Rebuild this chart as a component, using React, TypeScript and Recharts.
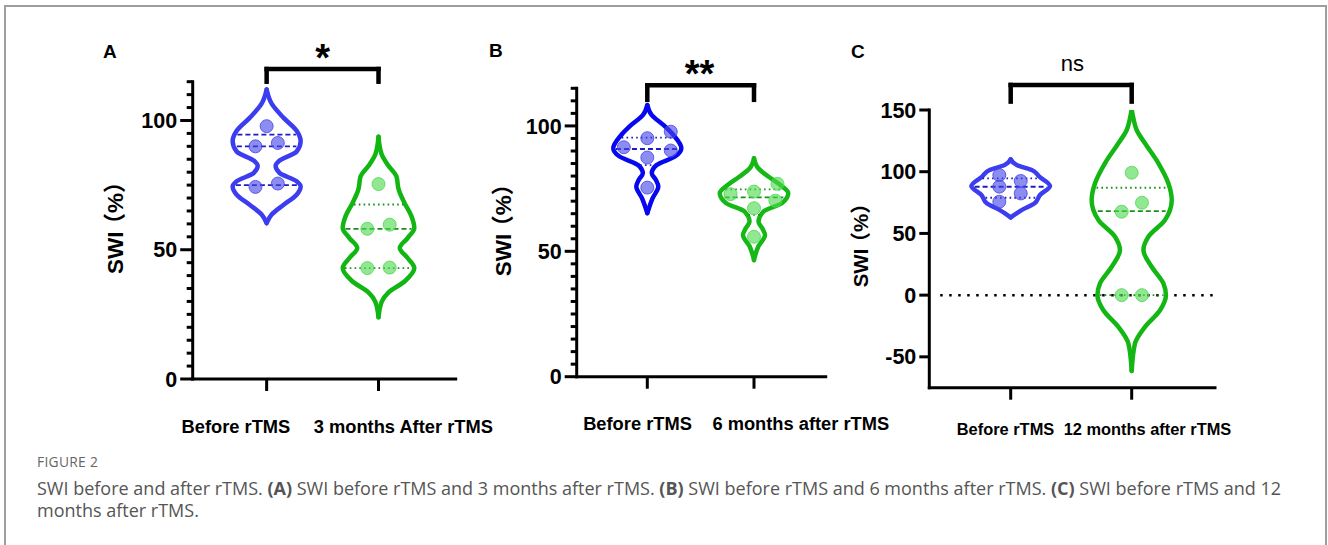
import React from "react";
import { ComposedChart, XAxis, YAxis, Line, Scatter, ReferenceLine, ReferenceDot } from "recharts";

const FONT = "'Liberation Sans', Arial, 'Noto Sans CJK SC', sans-serif";

// ---------- data ----------
const labelsA = ["Before rTMS", "3 months After rTMS"];
const labelsB = ["Before rTMS", "6 months after rTMS"];
const labelsC = ["Before rTMS", "12 months after rTMS"];

// SWI (%) of each patient
const swiA_before = [97.8, 91.3, 90.0, 75.6, 74.3];
const swiA_after = [75.4, 59.7, 58.1, 43.1, 42.9];
const swiB_before = [97.7, 95.1, 91.5, 90.2, 87.4, 75.4];
const swiB_after = [76.9, 73.8, 72.8, 70.2, 67.2, 55.8];
const swiC_before = [97.3, 92.5, 87.9, 82.4, 75.7];
const swiC_after = [99.2, 74.9, 67.6, 0, 0];

// sideways spread of the dots (category units)
const spreadA_before = [0, 0.1, -0.1, 0.1, -0.1];
const spreadA_after = [0, 0.1, -0.1, 0.1, -0.1];
const spreadB_before = [0.22, 0, -0.22, 0.22, 0, 0];
const spreadB_after = [0.22, 0, -0.22, 0.2, 0, 0];
const spreadC_before = [-0.094, 0.083, -0.094, 0.083, -0.094];
const spreadC_after = [0, 0.085, -0.083, -0.083, 0.085];

// quartiles [Q3, median, Q1]
const quartA_before = [94.5, 90.0, 75.0];
const quartA_after = [67.5, 58.1, 42.9];
const quartB_before = [95.3, 90.8, 84.4];
const quartB_after = [74.7, 71.5, 64.5];
const quartC_before = [94.6, 87.8, 78.9];
const quartC_after = [87, 68.1, 0];

// violin outlines: [SWI value, half width in category units], top to bottom
type Profile = [number, number][];
const violinA_before: Profile = [[112, 0], [106.5, 0.045], [101, 0.152], [96, 0.268], [92, 0.304], [88, 0.268], [84.2, 0.107], [82.5, 0.08], [79.7, 0.116], [76.5, 0.268], [74.5, 0.304], [71.3, 0.268], [67.4, 0.152], [63.6, 0.045], [60.3, 0]];
const violinA_after: Profile = [[93.7, 0], [87, 0.027], [83, 0.08], [78.4, 0.16], [73.3, 0.18], [68.1, 0.232], [62.9, 0.295], [58.4, 0.32], [54.5, 0.26], [50.7, 0.19], [46.8, 0.26], [42.9, 0.32], [38, 0.24], [33.5, 0.09], [30, 0.03], [23.9, 0]];
const violinB_before: Profile = [[108.3, 0], [104.4, 0.04], [100.4, 0.15], [96.4, 0.244], [91.1, 0.319], [87.8, 0.26], [84.4, 0.087], [81.1, 0.042], [78.5, 0.08], [75.8, 0.103], [71.2, 0.05], [65.2, 0]];
const violinB_after: Profile = [[87.1, 0], [83.1, 0.04], [79.8, 0.134], [76.5, 0.244], [73.2, 0.321], [69.2, 0.26], [65.8, 0.087], [61.8, 0.042], [59, 0.08], [56.5, 0.103], [51.9, 0.04], [46.5, 0]];
const violinC_before: Profile = [[110, 0], [105.4, 0.05], [101.4, 0.174], [96, 0.237], [88.4, 0.325], [81.1, 0.242], [74.4, 0.198], [68.9, 0.09], [63, 0]];
const violinC_after: Profile = [[150.6, 0], [141.9, 0.017], [133.8, 0.041], [123, 0.11], [106.8, 0.221], [90.6, 0.303], [77, 0.331], [60.8, 0.275], [47.3, 0.138], [36.5, 0.097], [23, 0.165], [9.5, 0.262], [0, 0.283], [-12.2, 0.234], [-25.7, 0.11], [-39.2, 0.027], [-61.4, 0]];

const ticks0to115 = Array.from({ length: 24 }, (_, i) => i * 5);
const ticksC = [-50, 0, 50, 100, 150];

// ---------- helpers ----------
const hwAt = (prof: Profile, v: number) => {
  for (let i = 0; i < prof.length - 1; i++) {
    const [v0, w0] = prof[i];
    const [v1, w1] = prof[i + 1];
    if (v <= v0 && v >= v1) return w0 + ((w1 - w0) * (v - v0)) / (v1 - v0);
  }
  return 0;
};

type Group = {
  center: number;
  values: number[];
  spread: number[];
  profile: Profile;
  quart: number[];
  quartDash: string[];
  line: string;
  dot: string;
  q: string;
};

const YTick = ({ x, y, payload, majors, majorLen, minorLen }: any) => {
  const major = majors.includes(payload.value);
  return (
    <g>
      <line x1={x} x2={x - (major ? majorLen : minorLen)} y1={y} y2={y} stroke="#000" strokeWidth={3} />
      {major && (
        <text x={x - majorLen - 3} y={y + 7.6} textAnchor="end" fontSize={21.5} fontWeight="bold" fontFamily={FONT} fill="#000">
          {payload.value}
        </text>
      )}
    </g>
  );
};

const Panel = (p: any) => {
  const groups: Group[] = p.groups;
  return (
    <div style={{ position: "absolute", left: p.box[0], top: p.box[1] }}>
      <ComposedChart width={p.box[2]} height={p.box[3]} margin={p.margin}>
        <XAxis
          type="number"
          dataKey="x"
          domain={p.xDomain}
          allowDataOverflow
          ticks={[1, 2]}
          interval={0}
          height={50}
          tickSize={12}
          tickMargin={0}
          axisLine={{ stroke: "#000", strokeWidth: 3, strokeLinecap: "square" }}
          tickLine={{ stroke: "#000", strokeWidth: 3 }}
          tick={(t: any) => (
            <text
              x={t.x + p.labelDx[t.payload.value - 1]}
              y={t.y + p.labelDy}
              textAnchor="middle"
              fontSize={p.labelSize}
              fontWeight="bold"
              fontFamily={FONT}
              fill="#000"
            >
              {p.labels[t.payload.value - 1]}
            </text>
          )}
        />
        <YAxis
          type="number"
          dataKey="v"
          domain={p.yDomain}
          allowDataOverflow
          ticks={p.yTicks}
          interval={0}
          width={p.yAxisWidth}
          tickSize={0}
          tickMargin={0}
          tickLine={false}
          axisLine={{ stroke: "#000", strokeWidth: 3, strokeLinecap: "square" }}
          tick={(t: any) => <YTick {...t} majors={p.yMajor} majorLen={p.majorLen} minorLen={6} />}
          label={{
            content: (l: any) => {
              const vb = l.viewBox || { x: 0, y: 0, height: 0 };
              const cx = vb.x + p.yLabelX;
              const cy = vb.y + vb.height / 2 + p.yLabelDy;
              return (
                <text
                  x={cx}
                  y={cy + p.yLabelSize * 0.36}
                  transform={`rotate(-90 ${cx} ${cy})`}
                  textAnchor="middle"
                  fontSize={p.yLabelSize}
                  fontWeight="bold"
                  fontFamily={FONT}
                  fill="#000"
                >
                  SWI<tspan dx={-4}>（%）</tspan>
                </text>
              );
            },
          }}
        />
        {p.zeroLine && (
          <ReferenceLine
            segment={[{ x: p.xDomain[0] + 0.09, y: 0 }, { x: 2.68, y: 0 }]}
            stroke="#000"
            strokeWidth={2.5}
            strokeDasharray="2.5 6.5"
          />
        )}
        {groups.map((g, gi) =>
          [1, -1].map((side) => (
            <Line
              key={`v${gi}${side}`}
              data={g.profile.map(([v, w]) => ({ x: g.center + side * w, v }))}
              dataKey="v"
              type="monotoneY"
              stroke={g.line}
              strokeWidth={4.5}
              strokeLinecap="round"
              dot={false}
              activeDot={false}
              isAnimationActive={false}
            />
          ))
        )}
        {groups.map((g, gi) => (
          <Scatter
            key={`s${gi}`}
            data={g.values.map((v, i) => ({ x: g.center + g.spread[i], v }))}
            dataKey="v"
            isAnimationActive={false}
            shape={(s: any) => (
              <circle cx={s.cx} cy={s.cy} r={6.5} fill={g.dot} fillOpacity={0.62} stroke={g.dot} strokeOpacity={0.8} strokeWidth={1} />
            )}
          />
        ))}
        {groups.map((g, gi) =>
          g.quart.map((q, qi) => {
            const w = Math.max(hwAt(g.profile, q) - 0.02, 0.01);
            return (
              <ReferenceLine
                key={`q${gi}${qi}`}
                segment={[{ x: g.center - w, y: q }, { x: g.center + w, y: q }]}
                stroke={g.q}
                strokeWidth={1.8}
                strokeDasharray={g.quartDash[qi]}
                ifOverflow="visible"
              />
            );
          })
        )}
        {[
          [1, p.bracket[0], 1, p.bracket[1]],
          [1, p.bracket[1], 2, p.bracket[1]],
          [2, p.bracket[1], 2, p.bracket[0]],
        ].map((s, i) => (
          <ReferenceLine
            key={`b${i}`}
            segment={[{ x: s[0], y: s[1] }, { x: s[2], y: s[3] }]}
            stroke="#000"
            strokeWidth={4.5}
            strokeLinecap="square"
            ifOverflow="visible"
          />
        ))}
        <ReferenceDot
          x={p.sig.x}
          y={p.sig.y}
          r={1}
          fill="none"
          stroke="none"
          ifOverflow="visible"
          label={{
            content: (l: any) => {
              const vb = l.viewBox || { x: 0, y: 0, width: 0, height: 0 };
              const cx = vb.x + (vb.width || 0) / 2;
              const cy = vb.y + (vb.height || 0) / 2;
              return (
                <text
                  x={cx}
                  y={cy + p.sig.size * p.sig.shift}
                  textAnchor="middle"
                  fontSize={p.sig.size}
                  fontWeight={p.sig.bold ? "bold" : "normal"}
                  fontFamily={FONT}
                  fill="#000"
                >
                  {p.sig.text}
                </text>
              );
            },
          }}
        />
      </ComposedChart>
    </div>
  );
};

const dashQ = ["5 3", "5 3", "5 3"];
const dotQ = ["1.6 3.2", "5 3", "1.6 3.2"];

const Letter = ({ x, y, t }: any) => (
  <div style={{ position: "absolute", left: x - 7, top: y - 9.5, fontFamily: FONT, fontWeight: "bold", fontSize: 19, lineHeight: "19px" }}>{t}</div>
);

const captionStyle: React.CSSProperties = {
  position: "absolute",
  left: 37,
  fontFamily: "'Open Sans', sans-serif",
  fontSize: 18,
  lineHeight: "20px",
  height: 20,
  color: "#555",
  whiteSpace: "nowrap",
};

export default function App() {
  return (
    <div style={{ position: "absolute", left: 0, top: 0, width: 1328, height: 545, background: "#fff", overflow: "hidden" }}>
      <div style={{ position: "absolute", left: 4, top: 5, width: 1323, height: 600, border: "2px solid #9d9d9d", boxSizing: "border-box" }} />
      <Letter x={110} y={51} t="A" />
      <Letter x={496} y={50} t="B" />
      <Letter x={858} y={51} t="C" />
      <Panel
        box={[90, 30, 414, 420]}
        margin={{ top: 51.7, right: 48.3, bottom: 21, left: 0 }}
        yAxisWidth={102.7}
        xDomain={[0.339, 2.69]}
        yDomain={[0, 115]}
        yTicks={ticks0to115}
        yMajor={[0, 50, 100]}
        majorLen={12.5}
        labels={labelsA}
        labelDx={[-30.7, 24.8]}
        labelDy={42.1}
        labelSize={18.3}
        yLabelX={25}
        yLabelDy={-8}
        yLabelSize={22.5}
        bracket={[115, 119.9]}
        sig={{ x: 1.5, y: 127.5, text: "*", size: 38, bold: true, shift: 0.57 }}
        groups={[
          { center: 1, values: swiA_before, spread: spreadA_before, profile: violinA_before, quart: quartA_before, quartDash: dashQ, line: "#3d3df0", dot: "#4646e8", q: "#1c1cc0" },
          { center: 2, values: swiA_after, spread: spreadA_after, profile: violinA_after, quart: quartA_after, quartDash: dotQ, line: "#12b612", dot: "#4fd84f", q: "#1a8f1a" },
        ]}
      />
      <Panel
        box={[480, 30, 424, 420]}
        margin={{ top: 58.3, right: 78.3, bottom: 23.3, left: 0 }}
        yAxisWidth={96.7}
        xDomain={[0.3383, 2.672]}
        yDomain={[0, 115]}
        yTicks={ticks0to115}
        yMajor={[0, 50, 100]}
        majorLen={12}
        labels={labelsB}
        labelDx={[-9.8, 46.8]}
        labelDy={41.2}
        labelSize={18.3}
        yLabelX={23.3}
        yLabelDy={-8}
        yLabelSize={22.5}
        bracket={[110.4, 116.2]}
        sig={{ x: 1.49, y: 124.3, text: "**", size: 38, bold: true, shift: 0.57 }}
        groups={[
          { center: 1, values: swiB_before, spread: spreadB_before, profile: violinB_before, quart: quartB_before, quartDash: dotQ, line: "#0808ee", dot: "#4646e8", q: "#1c1cc0" },
          { center: 2, values: swiB_after, spread: spreadB_after, profile: violinB_after, quart: quartB_after, quartDash: dotQ, line: "#16b816", dot: "#4fd84f", q: "#1a8f1a" },
        ]}
      />
      <Panel
        box={[850, 30, 400, 420]}
        margin={{ top: 80, right: 35, bottom: 12.3, left: 0 }}
        yAxisWidth={79.3}
        xDomain={[0.3273, 2.6885]}
        yDomain={[-75, 150]}
        yTicks={ticksC}
        yMajor={ticksC}
        majorLen={10}
        labels={labelsC}
        labelDx={[-5.2, 15.8]}
        labelDy={34.9}
        labelSize={16.4}
        yLabelX={10.7}
        yLabelDy={-8.5}
        yLabelSize={20.5}
        bracket={[156.8, 170.3]}
        sig={{ x: 1.51, y: 186.5, text: "ns", size: 22, bold: false, shift: 0.26 }}
        zeroLine
        groups={[
          { center: 1, values: swiC_before, spread: spreadC_before, profile: violinC_before, quart: quartC_before, quartDash: dotQ, line: "#3d3df0", dot: "#4646e8", q: "#1c1cc0" },
          { center: 2, values: swiC_after, spread: spreadC_after, profile: violinC_after, quart: quartC_after, quartDash: dotQ, line: "#14b614", dot: "#4fd84f", q: "#1a8f1a" },
        ]}
      />
      <div style={{ position: "absolute", left: 37, top: 453, fontFamily: "'Open Sans', sans-serif", fontSize: 13.8, lineHeight: "18px", color: "#666", letterSpacing: 0.3 }}>
        FIGURE 2
      </div>
      <div style={{ ...captionStyle, top: 478 }}>
        SWI before and after rTMS. <b>(A)</b> SWI before rTMS and 3 months after rTMS. <b>(B)</b> SWI before rTMS and 6 months after rTMS. <b>(C)</b> SWI before rTMS and 12
      </div>
      <div style={{ ...captionStyle, top: 500 }}>months after rTMS.</div>
    </div>
  );
}
